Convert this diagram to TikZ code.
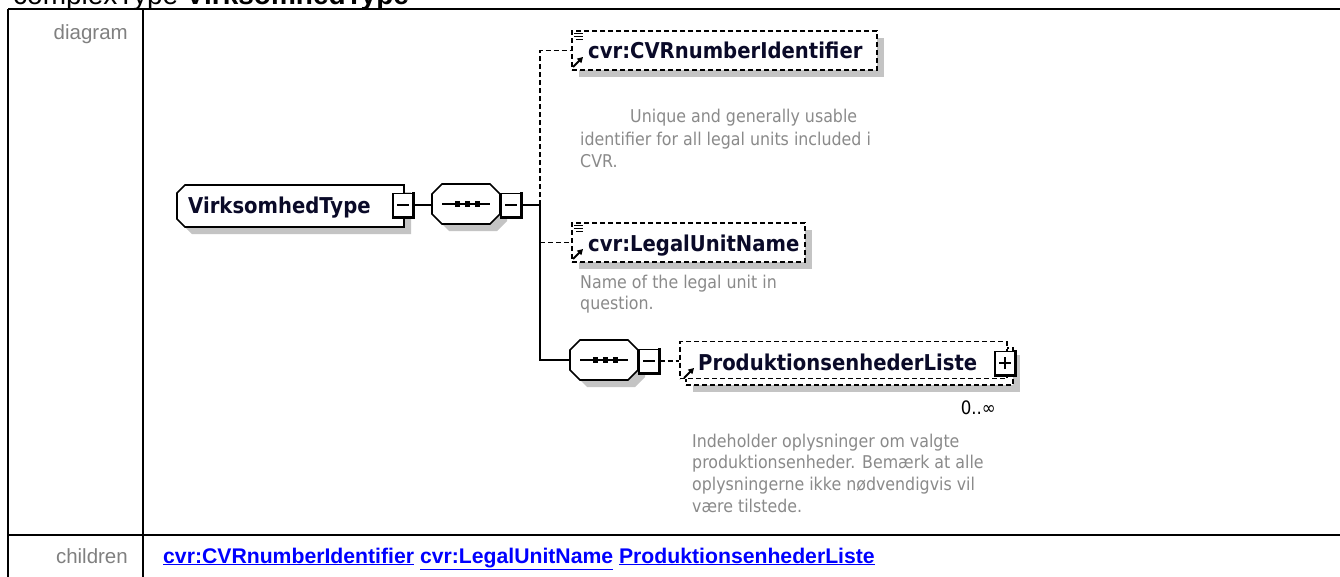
\documentclass[tikz,border=0pt]{standalone}
\usepackage{fontspec}
\setmainfont{DejaVu Sans}
\newfontfamily\tahomaf[FakeStretch=0.9]{DejaVu Sans}
\newfontfamily\arialf{Liberation Sans}
\usetikzlibrary{arrows.meta,calc}
\definecolor{shadowgray}{HTML}{C4C4C4}
\definecolor{descgray}{HTML}{8A8A8A}
\definecolor{lblgray}{HTML}{808080}
\definecolor{linkblue}{HTML}{0000FF}
\definecolor{namecol}{HTML}{0A0A28}

\newcommand\mytoggle[4]{%
  \node[togglebox] (#1) at (#2,#3) {};
  \draw[line width=3pt] ([yshift=0.5pt]#1.north east) -- (#1.south east) -- ([xshift=-0.5pt]#1.south west);
  \draw[line width=1.5pt] ([xshift=-6pt]#1.center) -- ([xshift=6pt]#1.center);
  \ifnum#4=1 \draw[line width=1.5pt] ([yshift=-6pt]#1.center) -- ([yshift=6pt]#1.center);\fi
}
\newcommand\seqshape[3]{%
  \begin{scope}[shift={(#2,#3)}]
    \begin{scope}[xshift=7pt,yshift=-7pt]
      \fill[shadowgray] (-24,-20) -- (24,-20) -- (34,-10) -- (34,10) -- (24,20) -- (-24,20) -- (-34,10) -- (-34,-10) -- cycle;
    \end{scope}
    \draw[fill=white,line width=1.6pt] (-24,-20) -- (24,-20) -- (34,-10) -- (34,10) -- (24,20) -- (-24,20) -- (-34,10) -- (-34,-10) -- cycle;
    \draw[line width=1.6pt] (-24,0) -- (24,0);
    \fill (-11.5,-3) rectangle (-6,3);
    \fill (-1.5,-3) rectangle (4,3);
    \fill (8.5,-3) rectangle (14,3);
  \end{scope}
  \node[inner sep=0,minimum width=68pt,minimum height=40pt] (#1) at (#2,#3) {};
}
\newcommand\linesicon[2]{%
  \draw[line width=1.4pt] (#1+1,#2+1.5) -- (#1+10,#2+1.5) (#1+1,#2+4.5) -- (#1+10,#2+4.5) (#1+3,#2+7.5) -- (#1+10,#2+7.5);
}
\newcommand\refarrow[2]{%
  \draw[line width=2pt,-{Triangle[length=5.5pt,width=6pt]}] (#1,#2) -- (#1+10,#2-10);
}

\begin{document}
\begin{tikzpicture}[x=1pt,y=-1pt,
  conn/.style={line width=1.7pt},
  optconn/.style={line width=1.7pt,dash pattern=on 5pt off 3pt},
  togglebox/.style={draw,fill=white,line width=1.3pt,minimum width=20pt,minimum height=23pt,inner sep=0},
  elembox/.style={draw,fill=white,line width=1.7pt,dash pattern=on 5pt off 3pt,inner sep=0},
  nametext/.style={font=\tahomaf\bfseries\fontsize{21.8}{26}\selectfont,text=namecol,inner sep=0,anchor=base west},
  desctext/.style={font=\tahomaf\fontsize{17.6}{22}\selectfont,text=descgray,inner sep=0,anchor=base west},
  lbltext/.style={font=\arialf\fontsize{20.5}{24}\selectfont,text=lblgray,inner sep=0,anchor=base east},
  linktext/.style={font=\arialf\bfseries\fontsize{21.2}{24}\selectfont,text=linkblue,inner sep=0,anchor=base west},
]
\useasboundingbox (0,0) rectangle (1340,576);
\fill[white] (0,0) rectangle (1340,576);

% title (clipped at top)
\node[font=\arialf\fontsize{28}{32}\selectfont,anchor=base west,inner sep=0] (title) at (13,4) {complexType \textbf{VirksomhedType}};

% table
\draw[line width=2pt] (8,9) -- (1360,9);
\draw[line width=2pt] (8,9) -- (8,600);
\draw[line width=2pt] (143,9) -- (143,600);
\draw[line width=2pt] (8,535) -- (1360,535);
\node[lbltext] (lbldiagram) at (128,39) {diagram};
\node[lbltext] (lblchildren) at (128,563) {children};
\node[linktext] (links) at (163,563) {\underline{cvr:CVRnumberIdentifier} \underline{cvr:LegalUnitName} \underline{ProduktionsenhederListe}};

% root element
\begin{scope}[xshift=7pt,yshift=-7pt]
  \fill[shadowgray] (185,185) -- (404,185) -- (404,227) -- (185,227) -- (177,219) -- (177,193) -- cycle;
\end{scope}
\draw[fill=white,line width=1.7pt] (185,185) -- (404,185) -- (404,227) -- (185,227) -- (177,219) -- (177,193) -- cycle;
\node[nametext] (root) at (188,213) {VirksomhedType};
\mytoggle{rootm}{403}{205}{0}

% sequence 1
\seqshape{seq1}{466}{204}
\mytoggle{seq1m}{511}{205}{0}
\draw[conn] (rootm.east) -- (seq1.west |- rootm.east);
\coordinate (bus) at (540,205);
\draw[conn] (seq1m.east) -- (bus);

% cvr:CVRnumberIdentifier
\fill[shadowgray] (579,38) rectangle (884,77);
\node[elembox,minimum width=305pt,minimum height=39pt] (cvr) at (724.5,50.5) {};
\linesicon{573}{32}
\refarrow{573}{67}
\node[nametext] (cvrlbl) at (588,58) {cvr:CVRnumberIdentifier};
\node[desctext] (cvrd1) at (630,122) {Unique and generally usable};
\node[desctext] (cvrd2) at (580,145) {identifier for all legal units included i};
\node[desctext] (cvrd3) at (580,167) {CVR.};

% cvr:LegalUnitName
\fill[shadowgray] (579,230) rectangle (812,269);
\node[elembox,minimum width=233pt,minimum height=39pt] (lun) at (688.5,242.5) {};
\linesicon{573}{224}
\refarrow{573}{259}
\node[nametext] (lunlbl) at (588,251) {cvr:LegalUnitName};
\node[desctext] (lund1) at (580,288) {Name of the legal unit in};
\node[desctext] (lund2) at (580,309) {question.};

% sequence 2
\seqshape{seq2}{604}{360}
\mytoggle{seq2m}{649}{361}{0}

% ProduktionsenhederListe
\fill[shadowgray] (693,355) rectangle (1020,392);
\node[elembox,minimum width=327pt,minimum height=37pt] (prodback) at (849.5,366.5) {};
\node[elembox,minimum width=327pt,minimum height=37pt] (prod) at (843.5,360) {};
\refarrow{684}{378}
\node[nametext] (prodlbl) at (698,370) {ProduktionsenhederListe};
\mytoggle{prodp}{1005}{363}{1}
\node[font=\tahomaf\fontsize{18.5}{22}\selectfont,anchor=base east,inner sep=0] (mult) at (996,414) {0..∞};
\node[desctext] (prodd1) at (692,447) {Indeholder oplysninger om valgte};
\node[desctext] (prodd2) at (692,468) {produktionsenheder. Bemærk at alle};
\node[desctext] (prodd3) at (692,490) {oplysningerne ikke nødvendigvis vil};
\node[desctext] (prodd4) at (692,512) {være tilstede.};

% connectors
\draw[optconn] (bus) -- (bus |- cvr.west) -- (cvr.west);
\draw[optconn] (bus |- lun.west) -- (lun.west);
\draw[conn] (bus) -- (bus |- seq2.west) -- (seq2.west);
\draw[optconn] (seq2m.east) -- (prod.west |- seq2m.east);
\end{tikzpicture}
\end{document}
